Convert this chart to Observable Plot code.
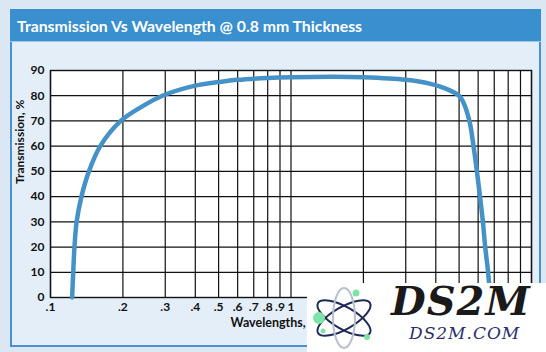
<!DOCTYPE html>
<html>
<head>
<meta charset="utf-8">
<script src="https://cdn.jsdelivr.net/npm/d3@7"></script>
<script src="https://cdn.jsdelivr.net/npm/@observablehq/plot@0.6"></script>
<style>
  html, body { margin: 0; padding: 0; }
  body { width: 546px; height: 352px; background: #dbe8f4; position: relative; overflow: hidden;
         font-family: Lato, "Noto Sans", sans-serif; }
  #panel { position: absolute; left: 10px; top: 9px; width: 527px; height: 334px;
           border: 2px solid #4a92cf; background: #e3eef8; box-sizing: content-box; }
  #title { position: absolute; left: 10px; top: 9px; width: 531px; height: 33px; background: #3a8fcf;
           border-bottom: 1px solid #9cc6ea; color: #fff; font-weight: 700; font-size: 15.8px;
           line-height: 33px; padding-left: 7px; box-sizing: border-box; }
  #chart { position: absolute; left: 0; top: 0; }
  #wm { position: absolute; left: 307px; top: 283px; width: 239px; height: 69px; background: #fff; }
  #wm .big { position: absolute; left: 84px; top: -6px; font: italic 900 40px "DejaVu Serif", serif; color: #1a1a1a; letter-spacing: 1px; }
  #wm .small { position: absolute; left: 102px; top: 40px; font: italic 400 17px "DejaVu Serif", serif; color: #2a2f6a; letter-spacing: 1px; }
  #wm svg { position: absolute; left: 2px; top: 2px; }
</style>
</head>
<body>
<div id="panel"></div>
<div id="title">Transmission Vs Wavelength @ 0.8 mm Thickness</div>
<div id="chart"></div>
<div id="wm">
  <svg width="70" height="66" viewBox="0 0 70 66">
    <g fill="none" stroke="#1f2a55" stroke-width="2">
      <ellipse cx="35" cy="33" rx="30" ry="11" transform="rotate(30 35 33)"/>
      <ellipse cx="35" cy="33" rx="30" ry="11" transform="rotate(-30 35 33)"/>
    </g>
    <ellipse cx="35" cy="33" rx="30" ry="11" transform="rotate(90 35 33)" fill="none" stroke="#b8c0cc" stroke-width="2"/>
    <circle cx="10" cy="33" r="6" fill="#7fe3a8"/>
    <circle cx="47" cy="8" r="3.5" fill="#7fe3a8"/>
    <circle cx="58" cy="52" r="3" fill="#7fe3a8"/>
    <circle cx="14" cy="46" r="2.5" fill="#7fe3a8"/>
  </svg>
  <div class="big">DS2M</div>
  <div class="small">DS2M.COM</div>
</div>
<script>
// Wavelength (µm) and transmission (%)
const wavelength = [0.123, 0.1243, 0.1258, 0.1284, 0.1345, 0.1445, 0.161, 0.196, 0.238, 0.292, 0.4, 0.5, 0.6, 0.8, 1.0, 1.5, 2.0, 3.0, 3.77, 4.4, 5.0, 5.17, 5.52, 5.74, 5.93, 6.11, 6.28, 6.42, 6.6, 6.73];
const transmission = [0, 10, 20, 30, 40, 50, 60, 70, 75.5, 80, 84.0, 85.4, 86.3, 87.0, 87.3, 87.5, 87.3, 86.3, 84.8, 82.8, 80, 78, 70, 60, 50, 40, 30, 20, 10, 0];

// Gridline positions; labels visible in the reference (the rest are hidden under the watermark)
const xTicks = [0.1, 0.2, 0.3, 0.4, 0.5, 0.6, 0.7, 0.8, 0.9, 1, 2, 3, 4, 5, 6, 7, 8, 9, 10];
const xLabelValues = [0.1, 0.2, 0.3, 0.4, 0.5, 0.6, 0.7, 0.8, 0.9, 1];
const xLabelTexts = [".1", ".2", ".3", ".4", ".5", ".6", ".7", ".8", ".9", "1"];
const yTicks = [0, 10, 20, 30, 40, 50, 60, 70, 80, 90];

const data = wavelength.map((w, i) => ({w, t: transmission[i]}));
const xLabels = xLabelValues.map((v, i) => ({v, label: xLabelTexts[i]}));
const font = "Lato, 'Noto Sans', sans-serif";

const chart = Plot.plot({
  width: 546,
  height: 352,
  marginLeft: 50,
  marginRight: 15,
  marginTop: 70,
  marginBottom: 55,
  style: {background: "transparent", fontFamily: font, fontSize: "12px", fontWeight: 700, color: "#111"},
  x: {type: "log", domain: [0.1, 10], axis: null},
  y: {domain: [0, 90], axis: null},
  marks: [
    Plot.frame({fill: "white", stroke: null}),
    Plot.ruleX(xTicks, {stroke: "#111", strokeWidth: 1.2}),
    Plot.ruleY(yTicks, {stroke: "#111", strokeWidth: 1.2}),
    Plot.frame({stroke: "#111", strokeWidth: 1.4}),
    Plot.line(data, {x: "w", y: "t", stroke: "#4592c8", strokeWidth: 4.5, curve: "catmull-rom"}),
    Plot.text(xLabels, {x: "v", text: "label", frameAnchor: "bottom", dy: 13, fontSize: 12, fontWeight: 700, fill: "#111"}),
    Plot.text(yTicks, {y: d => d, text: d => String(d), frameAnchor: "left", textAnchor: "end", dx: -6, fontSize: 12, fontWeight: 700, fill: "#111"}),
    Plot.text(["Wavelengths, µm"], {frameAnchor: "bottom", dy: 29, dx: -12, fontSize: 12.5, fontWeight: 700, fill: "#111"}),
    Plot.text(["Transmission, %"], {frameAnchor: "left", rotate: -90, dx: -30, fontSize: 12, fontWeight: 700, fill: "#111"})
  ]
});
document.getElementById("chart").appendChild(chart);
</script>
</body>
</html>
